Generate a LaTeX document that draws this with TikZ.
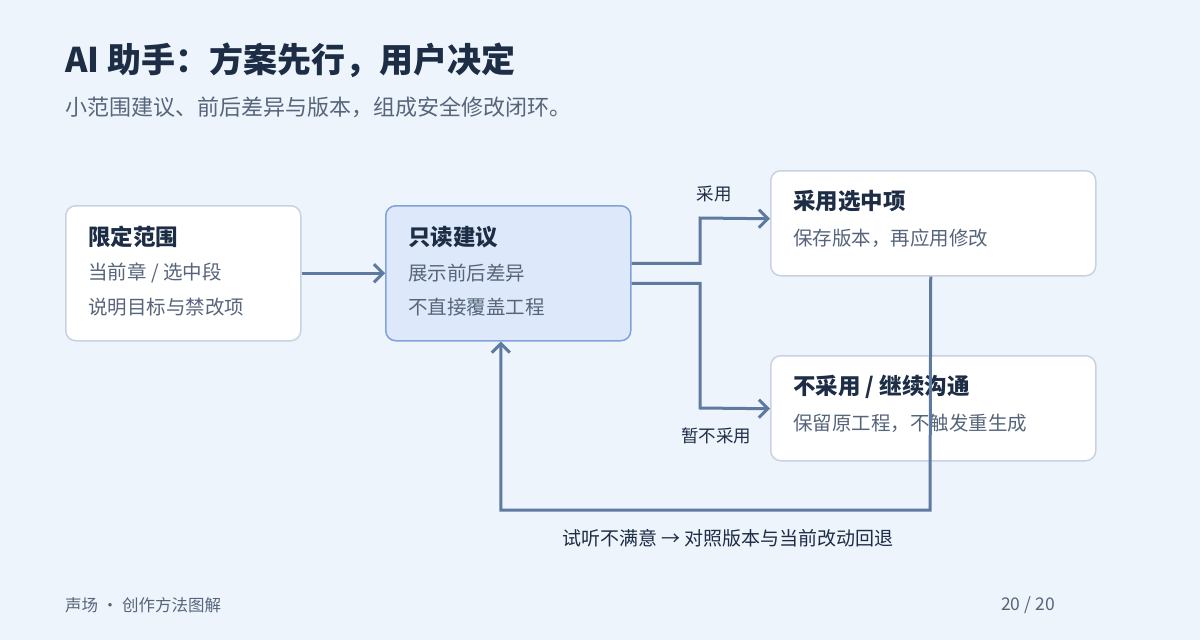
\documentclass[tikz,border=0pt]{standalone}
\usepackage{fontspec}
\setmainfont{Noto Sans CJK SC}
\usetikzlibrary{calc,arrows.meta}
\definecolor{bgc}{HTML}{EEF4FB}
\definecolor{inkc}{HTML}{1C2D45}
\definecolor{subc}{HTML}{56657A}
\definecolor{edgec}{HTML}{C9D3DF}
\definecolor{linec}{HTML}{5F7AA0}
\definecolor{hifill}{HTML}{DDE9FB}
\definecolor{hiedge}{HTML}{7FA3DA}
\tikzset{
  box/.style={draw=edgec, line width=1.5pt, fill=white, rounded corners=10pt, anchor=north west, inner sep=0pt},
  hibox/.style={box, draw=hiedge, fill=hifill},
  head/.style={anchor=west, inner sep=0pt, text=inkc, font=\fontsize{22.5}{26}\selectfont\bfseries},
  body/.style={anchor=west, inner sep=0pt, text=subc, font=\fontsize{19.5}{23}\selectfont},
  tag/.style={inner sep=0pt, text=inkc, font=\fontsize{17.5}{21}\selectfont},
  flow/.style={draw=linec, line width=3pt, -{Straight Barb[length=9pt,width=18pt]}},
}
\begin{document}
\begin{tikzpicture}[x=1pt,y=-1pt]
    \fill[bgc] (0,0) rectangle (1200,640);
    \useasboundingbox (0,0) rectangle (1200,640);

    % heading
    \node[anchor=west, inner sep=0pt, text=inkc, font=\fontsize{34}{40}\selectfont\bfseries] (title) at (65,60) {AI 助手：方案先行，用户决定};
    \node[anchor=west, inner sep=0pt, text=subc, font=\fontsize{22}{26}\selectfont] (subtitle) at (65,107) {小范围建议、前后差异与版本，组成安全修改闭环。};

    % boxes
    \node[box, minimum width=235pt, minimum height=135pt] (scope) at (65,205) {};
    \node[hibox, minimum width=245pt, minimum height=135pt] (mid) at (385,205) {};
    \node[box, minimum width=325pt, minimum height=105pt] (ok) at (770,170) {};
    \node[box, minimum width=325pt, minimum height=105pt] (no) at (770,355) {};

    \node[head] (scope_h) at (88,237) {限定范围};
    \node[body] (scope_a) at (88,273) {当前章 / 选中段};
    \node[body] (scope_b) at (88,307) {说明目标与禁改项};

    \node[head] (mid_h) at (408,237) {只读建议};
    \node[body] (mid_a) at (408,273) {展示前后差异};
    \node[body] (mid_b) at (408,307) {不直接覆盖工程};

    \node[head] (ok_h) at (793,201) {采用选中项};
    \node[body] (ok_a) at (793,238) {保存版本，再应用修改};

    \node[head] (no_h) at (793,387) {不采用 / 继续沟通};
    \node[body] (no_a) at (793,423) {保留原工程，不触发重生成};

    % connectors
    \draw[flow] (scope.east) -- (mid.west);
    \coordinate (up_out) at ($(mid.east)+(0,-10)$);
    \coordinate (dn_out) at ($(mid.east)+(0,10)$);
    \draw[flow] (up_out) -| (700,218) -- ($(ok.west)+(0,-4.5)$);
    \draw[flow] (dn_out) -| (700,408) -- ($(no.west)+(0,0.5)$);
    \coordinate (back_in) at ($(mid.south)+(-7.5,0)$);
    \draw[flow] ($(ok.south)+(-2.5,0)$) -- (930,510) -| (back_in);

    \node[tag] (ok_tag) at (714,194) {采用};
    \node[tag] (no_tag) at (716,436) {暂不采用};
    \node[tag, font=\fontsize{19}{23}\selectfont] (back_tag) at (728,538) {试听不满意 → 对照版本与当前改动回退};

    % footer
    \node[anchor=west, inner sep=0pt, text=subc, font=\fontsize{16.5}{19}\selectfont] (foot) at (65,605) {声场 · 创作方法图解};
    \node[anchor=east, inner sep=0pt, text=subc, font=\fontsize{17.5}{21}\selectfont] (page) at (1055,605) {20 / 20};
\end{tikzpicture}
\end{document}
